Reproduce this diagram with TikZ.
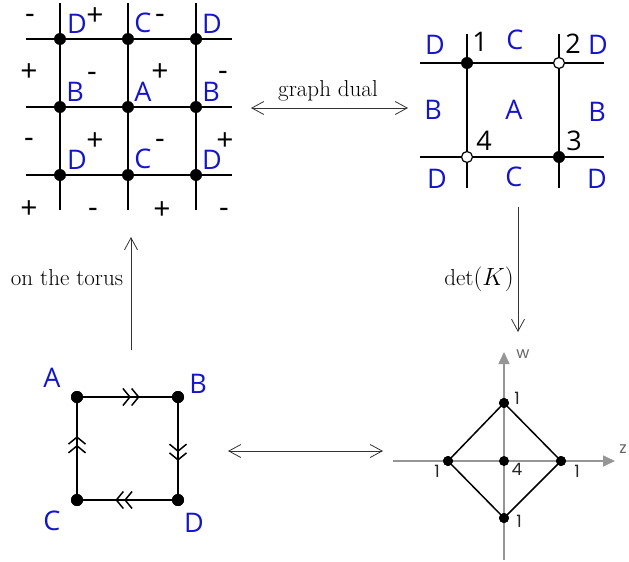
\documentclass[tikz,border=0pt]{standalone}
\usepackage{fontspec}
\newfontfamily\labfont{Open Sans}
\newfontfamily\popfont{Poppins}
\usetikzlibrary{arrows.meta,decorations.markings}
\definecolor{lblue}{RGB}{20,20,200}
\definecolor{axgray}{RGB}{150,150,150}
\tikzset{
  blackdot/.style={circle,fill=black,inner sep=0pt,minimum size=12pt},
  smalldot/.style={circle,fill=black,inner sep=0pt,minimum size=10pt},
  opendot/.style={circle,draw=black,fill=white,line width=1.2pt,inner sep=0pt,minimum size=11pt},
  lbl/.style={font=\labfont\fontsize{27}{27}\selectfont,text=lblue,inner sep=0pt},
  numlbl/.style={font=\labfont\fontsize{27}{27}\selectfont,text=black,inner sep=0pt},
  sgn/.style={font=\labfont\fontsize{30}{30}\selectfont,inner sep=0pt},
  minus/.style={sgn,yshift=-4pt},
  polylbl/.style={font=\popfont\fontsize{17}{17}\selectfont,text=black!85,inner sep=0pt},
  axlbl/.style={font=\popfont\fontsize{16}{16}\selectfont,text=black!60,inner sep=0pt},
  serlbl/.style={font=\fontsize{23}{23}\selectfont,inner sep=0pt},
  gridline/.style={line width=2pt},
  sqedge/.style={line width=2.5pt,postaction={decorate},
    decoration={markings,mark=at position 0.62 with {\arrow[line width=1.5pt]{Straight Barb[length=7pt,width=17pt] Straight Barb[length=7pt,width=17pt]}}}},
  barb/.tip={Straight Barb[length=12pt,width=13pt]},
  conn/.style={line width=0.8pt,draw=black!80},
  axis/.style={line width=1.6pt,draw=axgray,-{Triangle[length=12pt,width=11pt,fill=axgray]}},
  polyedge/.style={line width=1.5pt},
}
\begin{document}
\begin{tikzpicture}[x=1pt,y=-1pt]
\useasboundingbox (0,0) rectangle (629,562);

% ---------- top-left grid ----------
\foreach \x/\i in {60/1,128/2,196/3}{
  \coordinate (vt\i) at (\x,3);
  \coordinate (vb\i) at (\x,210);
  \draw[gridline] (vt\i) -- (vb\i);
}
\foreach \y/\j in {39/1,107/2,175/3}{
  \coordinate (hl\j) at (26,\y);
  \coordinate (hr\j) at (232,\y);
  \draw[gridline] (hl\j) -- (hr\j);
}
\foreach \x/\i in {60/1,128/2,196/3}{
  \foreach \y/\j in {39/1,107/2,175/3}{
    \node[blackdot] (g\i\j) at (\x,\y) {};
  }
}
% letters
\node[lbl] (tlD1) at (77,24) {D};
\node[lbl] (tlC1) at (143,23) {C};
\node[lbl] (tlD2) at (212,24) {D};
\node[lbl] (tlB1) at (75,92) {B};
\node[lbl] (tlA)  at (143,92) {A};
\node[lbl] (tlB2) at (211,92) {B};
\node[lbl] (tlD3) at (77,160) {D};
\node[lbl] (tlC2) at (143,159) {C};
\node[lbl] (tlD4) at (212,160) {D};
% signs
\node[minus] (s1)  at (30,15) {-};
\node[sgn]   (s2)  at (95,17) {+};
\node[minus] (s3)  at (160,15) {-};
\node[sgn]   (s4)  at (29,73) {+};
\node[minus] (s5)  at (92,73) {-};
\node[sgn]   (s6)  at (160,73) {+};
\node[minus] (s7)  at (223,72) {-};
\node[minus] (s8)  at (29,139) {-};
\node[sgn]   (s9)  at (95,142) {+};
\node[minus] (s10) at (160,140) {-};
\node[sgn]   (s11) at (225,142) {+};
\node[sgn]   (s12) at (29,210) {+};
\node[minus] (s13) at (93,209) {-};
\node[sgn]   (s14) at (162,211) {+};
\node[minus] (s15) at (224,209) {-};

% ---------- top-right dual ----------
\coordinate (dv1t) at (467,34);  \coordinate (dv1b) at (467,188);
\coordinate (dv2t) at (559,34);  \coordinate (dv2b) at (559,188);
\coordinate (dh1l) at (420,63);  \coordinate (dh1r) at (604,63);
\coordinate (dh2l) at (420,157); \coordinate (dh2r) at (604,157);
\draw[gridline] (dv1t) -- (dv1b);
\draw[gridline] (dv2t) -- (dv2b);
\draw[gridline] (dh1l) -- (dh1r);
\draw[gridline] (dh2l) -- (dh2r);
\node[blackdot] (d1) at (467,63) {};
\node[opendot]  (d2) at (559,63) {};
\node[blackdot] (d3) at (559,157) {};
\node[opendot]  (d4) at (467,157) {};
\node[lbl] (trD1) at (435,45) {D};
\node[numlbl] (n1) at (480,42) {1};
\node[lbl] (trC1) at (515,40) {C};
\node[numlbl] (n2) at (573,44) {2};
\node[lbl] (trD2) at (598,45) {D};
\node[lbl] (trB1) at (433,110) {B};
\node[lbl] (trA)  at (514,110) {A};
\node[lbl] (trB2) at (597,112) {B};
\node[numlbl] (n4) at (484,141) {4};
\node[numlbl] (n3) at (574,141) {3};
\node[lbl] (trD3) at (437,179) {D};
\node[lbl] (trC2) at (514,177) {C};
\node[lbl] (trD4) at (597,179) {D};

% ---------- connectors between panels ----------
\coordinate (gdL) at (251,108);
\coordinate (gdR) at (408,108);
\draw[conn,barb-barb] (gdL) -- (gdR);
\node[serlbl] (gdlab) at (328,91) {graph dual};

\coordinate (tsB) at (131,350);
\coordinate (tsT) at (131,237);
\draw[conn,-barb] (tsB) -- (tsT);
\node[serlbl] (tslab) at (67,278) {on the torus};

\coordinate (dkT) at (518,207);
\coordinate (dkB) at (518,332);
\draw[conn,-barb] (dkT) -- (dkB);
\node[serlbl] (dklab) at (479,279) {$\det(K)$};

\coordinate (btL) at (228,451);
\coordinate (btR) at (383,451);
\draw[conn,barb-barb] (btL) -- (btR);

% ---------- bottom-left square ----------
\node[blackdot] (qA) at (77,397) {};
\node[blackdot] (qB) at (178,397) {};
\node[blackdot] (qC) at (77,500) {};
\node[blackdot] (qD) at (178,500) {};
\draw[sqedge] (qA.center) -- (qB.center);
\draw[sqedge] (qB.center) -- (qD.center);
\draw[sqedge] (qD.center) -- (qC.center);
\draw[sqedge] (qC.center) -- (qA.center);
\node[blackdot] at (qA) {};
\node[blackdot] at (qB) {};
\node[blackdot] at (qC) {};
\node[blackdot] at (qD) {};
\node[lbl] (bA) at (52,378) {A};
\node[lbl] (bB) at (198,384) {B};
\node[lbl] (bC) at (52,521) {C};
\node[lbl] (bD) at (194,523) {D};

% ---------- Newton polygon ----------
\coordinate (axVb) at (504,560);
\coordinate (axVt) at (504,352);
\coordinate (axHl) at (393,461);
\coordinate (axHr) at (615,461);
\draw[axis] (axVb) -- (axVt);
\draw[axis] (axHl) -- (axHr);
\node[axlbl] (wlab) at (523,354) {w};
\node[axlbl] (zlab) at (623,449) {z};
\node[smalldot] (pT) at (504,403) {};
\node[smalldot] (pL) at (448,461) {};
\node[smalldot] (pC) at (504,461) {};
\node[smalldot] (pR) at (561,461) {};
\node[smalldot] (pB) at (504,518) {};
\draw[polyedge] (pT.center) -- (pR.center) -- (pB.center) -- (pL.center) -- cycle;
\node[smalldot] at (pT) {};
\node[smalldot] at (pL) {};
\node[smalldot] at (pR) {};
\node[smalldot] at (pB) {};
\node[polylbl] (lT) at (517,398) {1};
\node[polylbl] (lL) at (437,471) {1};
\node[polylbl] (lC) at (517,469) {4};
\node[polylbl] (lR) at (577,471) {1};
\node[polylbl] (lB) at (519,521) {1};
\end{tikzpicture}
\end{document}
